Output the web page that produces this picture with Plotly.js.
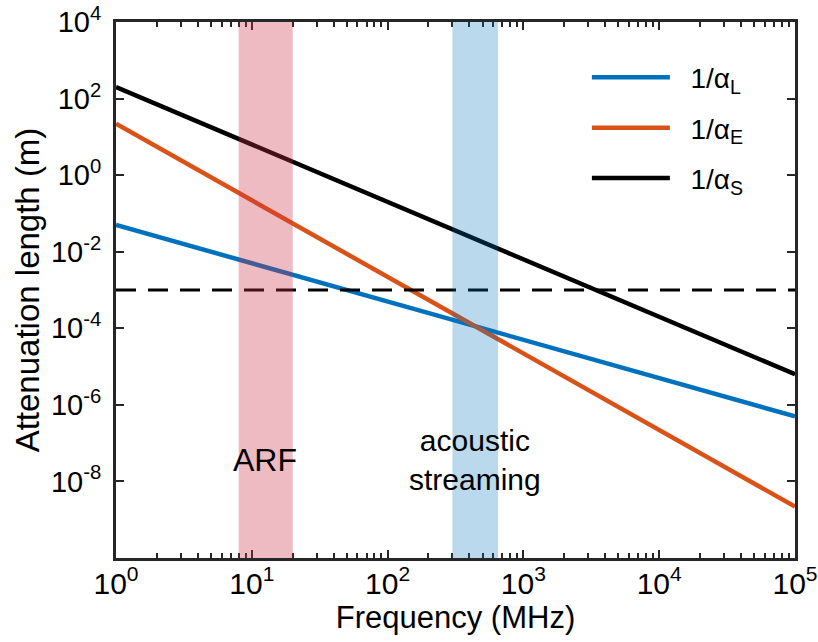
<!DOCTYPE html>
<html>
<head>
<meta charset="utf-8">
<script src="https://cdn.plot.ly/plotly-3.0.1.min.js"></script>
<style>html,body{margin:0;padding:0;background:#fff;}#chart{width:818px;height:642px;}</style>
</head>
<body>
<div id="chart"></div>
<script>
// Frequency (MHz)
const freq = [1, 10, 100, 1000, 10000, 100000];
// Attenuation lengths (m)
const invAlphaL = [0.05, 5e-3, 5e-4, 5e-5, 5e-6, 5e-7];
const invAlphaE = [22, 0.22, 2.2e-3, 2.2e-5, 2.2e-7, 2.2e-9];
const invAlphaS = [200, 6.3, 0.2, 6.3e-3, 2e-4, 6.3e-6];
const thresholdX = [1, 100000];
const thresholdY = [1e-3, 1e-3];
// Frequency bands (MHz)
const arfBand = [8, 20];
const streamingBand = [300, 650];
// Tick positions and exponents for labels
const xTickVals = [1, 10, 100, 1000, 10000, 100000];
const xTickExp = ['0', '1', '2', '3', '4', '5'];
const yTickVals = [1e-8, 1e-6, 1e-4, 1e-2, 1, 1e2, 1e4];
const yTickExp = ['-8', '-6', '-4', '-2', '0', '2', '4'];
const seriesNames = ['1/α<sub>L</sub>', '1/α<sub>E</sub>', '1/α<sub>S</sub>'];

const FONT = 'Liberation Sans, Arial, sans-serif';
const axisColor = '#262626';
const supLabel = e => '10<sup>' + e + '</sup>';
const pad = '\u00A0\u00A0';

const traces = [
  {x: freq, y: invAlphaL, mode: 'lines', name: pad + seriesNames[0], legendgroup: 'a',
   line: {color: '#0072BD', width: 4.5}},
  {x: freq, y: invAlphaE, mode: 'lines', name: pad + seriesNames[1], legendgroup: 'b',
   line: {color: '#D95319', width: 4.5}},
  {x: freq, y: invAlphaS, mode: 'lines', name: pad + seriesNames[2], legendgroup: 'c',
   line: {color: '#000000', width: 4.5}},
  {x: thresholdX, y: thresholdY, mode: 'lines', showlegend: false,
   line: {color: '#000000', width: 3.2, dash: '20px,12px'}}
];

const layout = {
  width: 818, height: 642,
  margin: {l: 116, r: 23, t: 22, b: 84},
  paper_bgcolor: '#fff', plot_bgcolor: '#fff',
  font: {family: FONT, color: '#000', size: 29},
  showlegend: true,
  legend: {x: 0.6935, y: 0.943, xanchor: 'left', yanchor: 'top',
           bgcolor: 'rgba(0,0,0,0)', font: {family: FONT, size: 28, color: '#000'},
           itemwidth: 78, tracegroupgap: 11, traceorder: 'grouped'},
  xaxis: {
    type: 'log', range: [0, 5],
    tickvals: xTickVals, ticktext: xTickExp.map(supLabel),
    ticks: 'inside', ticklen: 8, tickwidth: 2, tickcolor: axisColor,
    ticklabelstandoff: -3,
    minor: {ticks: 'inside', ticklen: 5, tickwidth: 2, tickcolor: axisColor, dtick: 'D1', showgrid: false},
    showline: true, linecolor: axisColor, linewidth: 3, mirror: 'ticks',
    showgrid: false, zeroline: false,
    tickfont: {family: FONT, size: 30, color: '#000'},
    title: {text: 'Frequency (MHz)', font: {family: FONT, size: 31, color: '#000'}, standoff: 0}
  },
  yaxis: {
    type: 'log', range: [-10, 4],
    tickvals: yTickVals, ticktext: yTickExp.map(supLabel),
    ticks: 'inside', ticklen: 8, tickwidth: 2, tickcolor: axisColor,
    ticklabelstandoff: 6,
    showline: true, linecolor: axisColor, linewidth: 3, mirror: 'ticks',
    showgrid: false, zeroline: false,
    tickfont: {family: FONT, size: 29, color: '#000'},
    title: {text: 'Attenuation length (m)', font: {family: FONT, size: 33, color: '#000'}, standoff: 2}
  },
  shapes: [
    {type: 'rect', xref: 'x', yref: 'paper', x0: arfBand[0], x1: arfBand[1], y0: 0, y1: 1,
     fillcolor: 'rgba(205,50,70,0.33)', line: {width: 0}, layer: 'above'},
    {type: 'rect', xref: 'x', yref: 'paper', x0: streamingBand[0], x1: streamingBand[1], y0: 0, y1: 1,
     fillcolor: 'rgba(0,114,189,0.27)', line: {width: 0}, layer: 'above'}
  ],
  annotations: [
    {xref: 'x', yref: 'y', x: Math.log10(12.5), y: -7.45, text: 'ARF', showarrow: false,
     font: {family: FONT, size: 32, color: '#000'}},
    {xref: 'x', yref: 'y', x: Math.log10(440), y: -7.45, text: 'acoustic<br>streaming', showarrow: false,
     font: {family: FONT, size: 30, color: '#000'}}
  ]
};

Plotly.newPlot('chart', traces, layout, {displayModeBar: false, staticPlot: true});
</script>
</body>
</html>
